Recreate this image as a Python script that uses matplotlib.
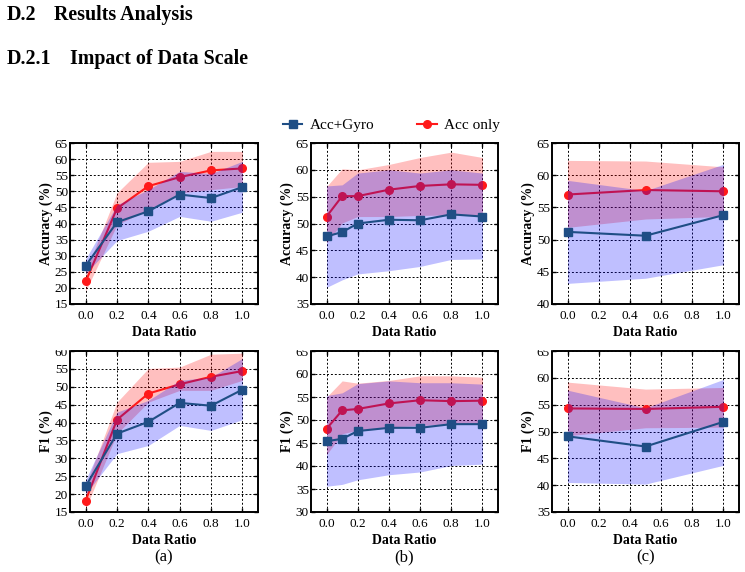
import matplotlib
matplotlib.use("Agg")
import matplotlib.pyplot as plt
from matplotlib.patches import Rectangle

plt.rcParams["font.family"] = ["Liberation Serif", "DejaVu Serif"]
plt.rcParams["mathtext.fontset"] = "stix"

W, H = 745, 572

# ── data: (a) full sweep, (b) fine sweep, (c) three ratios ──
x_a = [0.0, 0.2, 0.4, 0.6, 0.8, 1.0]
x_b = [0.0, 0.1, 0.2, 0.4, 0.6, 0.8, 1.0]
x_c = [0.0, 0.5, 1.0]

# Accuracy
acc_gyro_a = [26.9, 40.4, 43.8, 49.0, 47.9, 51.3]
acc_gyro_a_lo = [24.5, 34.7, 37.6, 42.2, 40.7, 43.5]
acc_gyro_a_hi = [29.0, 45.8, 50.5, 56.2, 55.5, 59.3]
acc_only_a = [22.0, 44.7, 51.6, 54.4, 56.5, 57.1]
acc_only_a_lo = [19.0, 39.6, 44.3, 49.5, 50.5, 51.5]
acc_only_a_hi = [25.0, 49.5, 59.0, 59.3, 62.4, 62.4]

acc_gyro_b = [47.6, 48.4, 50.0, 50.7, 50.6, 51.7, 51.3]
acc_gyro_b_lo = [38.1, 39.5, 40.6, 41.2, 42.0, 43.3, 43.4]
acc_gyro_b_hi = [57.0, 57.2, 59.4, 60.0, 59.4, 60.0, 59.4]
acc_only_b = [51.3, 55.1, 55.1, 56.3, 57.0, 57.3, 57.2]
acc_only_b_lo = [46.4, 50.1, 51.3, 51.3, 51.5, 51.6, 51.6]
acc_only_b_hi = [56.9, 60.2, 60.0, 61.0, 62.3, 63.3, 62.3]

acc_gyro_c = [51.2, 50.6, 53.8]
acc_gyro_c_lo = [43.2, 44.0, 46.1]
acc_gyro_c_hi = [59.2, 57.6, 61.7]
acc_only_c = [57.0, 57.7, 57.5]
acc_only_c_lo = [51.9, 53.2, 53.6]
acc_only_c_hi = [62.3, 62.2, 61.3]

# F1
f1_gyro_a = [22.2, 36.9, 40.2, 45.5, 44.7, 49.2]
f1_gyro_a_lo = [20.0, 31.3, 33.6, 39.2, 37.8, 40.8]
f1_gyro_a_hi = [24.0, 42.9, 46.2, 51.8, 52.7, 57.9]
f1_only_a = [18.2, 40.8, 48.1, 50.7, 52.8, 54.4]
f1_only_a_lo = [16.0, 36.9, 45.7, 49.0, 49.0, 51.8]
f1_only_a_hi = [22.4, 45.7, 55.1, 55.5, 59.1, 59.4]

f1_gyro_b = [45.4, 45.9, 47.6, 48.3, 48.3, 49.1, 49.1]
f1_gyro_b_lo = [35.6, 36.0, 37.0, 38.1, 38.7, 40.1, 40.4]
f1_gyro_b_hi = [55.3, 55.9, 57.9, 58.5, 58.1, 58.1, 57.8]
f1_only_b = [48.1, 52.1, 52.4, 53.6, 54.3, 54.1, 54.2]
f1_only_b_lo = [42.5, 47.0, 47.8, 48.5, 48.8, 49.2, 49.2]
f1_only_b_hi = [55.0, 58.5, 58.0, 58.6, 59.6, 59.6, 59.3]

f1_gyro_c = [49.1, 47.2, 51.8]
f1_gyro_c_lo = [40.5, 40.2, 43.7]
f1_gyro_c_hi = [57.7, 54.4, 59.7]
f1_only_c = [54.3, 54.2, 54.6]
f1_only_c_lo = [49.2, 50.7, 50.8]
f1_only_c_hi = [59.2, 57.9, 58.2]

BLUE_LINE = "#1f4e85"
RED_LINE = "#ff1a1a"


def px_axes(fig, left, top, right, bottom):
    return fig.add_axes([left / W, 1 - bottom / H, (right - left) / W, (bottom - top) / H])


def panel(ax, x, g, g_lo, g_hi, r, r_lo, r_hi, ylim, ylabel):
    ax.fill_between(x, r_lo, r_hi, color="red", alpha=0.25, lw=0, zorder=1)
    ax.plot(x, r, color=RED_LINE, marker="o", ms=5.5, lw=1.5, zorder=2, label="Acc only")
    ax.fill_between(x, g_lo, g_hi, color="blue", alpha=0.25, lw=0, zorder=3)
    ax.plot(x, g, color=BLUE_LINE, marker="s", ms=5.5, lw=1.5, zorder=4, label="Acc+Gyro")
    ax.set_xlim(-0.1, 1.1)
    ax.set_ylim(*ylim)
    ax.set_xticks([0.0, 0.2, 0.4, 0.6, 0.8, 1.0])
    ax.set_yticks(range(ylim[0], ylim[1] + 1, 5))
    ax.grid(True, color="black", linestyle=(0, (2, 2)), lw=0.7, zorder=0)
    ax.set_axisbelow(True)
    ax.tick_params(direction="in", top=True, right=True, length=3, width=1, labelsize=9.5)
    ax.tick_params(axis="x", pad=4.5)
    ax.tick_params(axis="y", pad=1.5)
    for s in ax.spines.values():
        s.set_linewidth(1.4)
    ax.set_xlabel("Data Ratio", fontsize=10, fontweight="bold", labelpad=3)
    ax.set_ylabel(ylabel, fontsize=10, fontweight="bold", labelpad=1.5)


fig = plt.figure(figsize=(W / 100, H / 100), dpi=100)

# section headings above the figure
fig.text(7 / W, 1 - 15 / H, "D.2", fontsize=14.4, fontweight="bold", va="center", ha="left")
fig.text(54 / W, 1 - 15 / H, "Results Analysis", fontsize=14.4, fontweight="bold",
         va="center", ha="left")
fig.text(7 / W, 1 - 59 / H, "D.2.1", fontsize=14.4, fontweight="bold", va="center", ha="left")
fig.text(70 / W, 1 - 59 / H, "Impact of Data Scale", fontsize=14.4, fontweight="bold",
         va="center", ha="left")

cols = [(70, 258), (311, 498), (552, 739)]
rows = [(143, 304), (351, 512)]

ax = px_axes(fig, cols[0][0], rows[0][0], cols[0][1], rows[0][1])
panel(ax, x_a, acc_gyro_a, acc_gyro_a_lo, acc_gyro_a_hi,
      acc_only_a, acc_only_a_lo, acc_only_a_hi, (15, 65), "Accuracy (%)")
ax = px_axes(fig, cols[1][0], rows[0][0], cols[1][1], rows[0][1])
panel(ax, x_b, acc_gyro_b, acc_gyro_b_lo, acc_gyro_b_hi,
      acc_only_b, acc_only_b_lo, acc_only_b_hi, (35, 65), "Accuracy (%)")
handles, labels = ax.get_legend_handles_labels()
ax_c = px_axes(fig, cols[2][0], rows[0][0], cols[2][1], rows[0][1])
panel(ax_c, x_c, acc_gyro_c, acc_gyro_c_lo, acc_gyro_c_hi,
      acc_only_c, acc_only_c_lo, acc_only_c_hi, (40, 65), "Accuracy (%)")

ax = px_axes(fig, cols[0][0], rows[1][0], cols[0][1], rows[1][1])
panel(ax, x_a, f1_gyro_a, f1_gyro_a_lo, f1_gyro_a_hi,
      f1_only_a, f1_only_a_lo, f1_only_a_hi, (15, 60), "F1 (%)")
ax = px_axes(fig, cols[1][0], rows[1][0], cols[1][1], rows[1][1])
panel(ax, x_b, f1_gyro_b, f1_gyro_b_lo, f1_gyro_b_hi,
      f1_only_b, f1_only_b_lo, f1_only_b_hi, (30, 65), "F1 (%)")
ax = px_axes(fig, cols[2][0], rows[1][0], cols[2][1], rows[1][1])
panel(ax, x_c, f1_gyro_c, f1_gyro_c_lo, f1_gyro_c_hi,
      f1_only_c, f1_only_c_lo, f1_only_c_hi, (35, 65), "F1 (%)")

# legend above the middle panel
fig.legend(handles[::-1], labels[::-1], loc="center", bbox_to_anchor=(391 / W, 1 - 125 / H),
           ncol=2, frameon=False, fontsize=11, columnspacing=2.8, handlelength=1.3,
           handletextpad=0.45)

# sub-panel letters
for (l, r), lab in zip(cols, ["(a)", "(b)", "(c)"]):
    fig.text((l + r) / 2 / W, 1 - 557 / H, lab, fontsize=12, ha="center", va="center")

# top tick labels of the lower row are cut off in the source image
for l, r in cols:
    fig.patches.append(Rectangle(((l - 30) / W, 1 - 349 / H), 30 / W, 9 / H,
                                 transform=fig.transFigure, color="white", zorder=10))

fig.savefig("out.png", dpi=100)
